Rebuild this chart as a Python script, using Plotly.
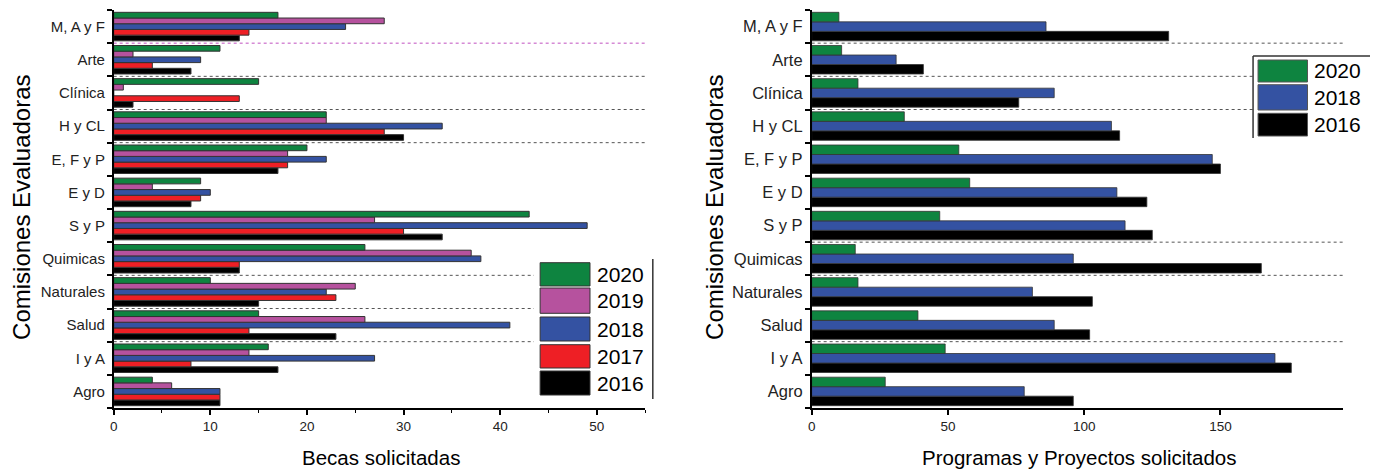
import plotly.graph_objects as go

W, H = 1377, 471

categories = ["M, A y F", "Arte", "Clínica", "H y CL", "E, F y P", "E y D",
              "S y P", "Quimicas", "Naturales", "Salud", "I y A", "Agro"]

# Left chart: Becas solicitadas
becas_2020 = [17, 11, 15, 22, 20, 9, 43, 26, 10, 15, 16, 4]
becas_2019 = [28, 2, 1, 22, 18, 4, 27, 37, 25, 26, 14, 6]
becas_2018 = [24, 9, 0, 34, 22, 10, 49, 38, 22, 41, 27, 11]
becas_2017 = [14, 4, 13, 28, 18, 9, 30, 13, 23, 14, 8, 11]
becas_2016 = [13, 8, 2, 30, 17, 8, 34, 13, 15, 23, 17, 11]

# Right chart: Programas y Proyectos solicitados
prog_2020 = [10, 11, 17, 34, 54, 58, 47, 16, 17, 39, 49, 27]
prog_2018 = [86, 31, 89, 110, 147, 112, 115, 96, 81, 89, 170, 78]
prog_2016 = [131, 41, 76, 113, 150, 123, 125, 165, 103, 102, 176, 96]

years_left = ["2020", "2019", "2018", "2017", "2016"]
years_right = ["2020", "2018", "2016"]

colors = {"2020": "#0E8440", "2019": "#B6529E", "2018": "#3452A2",
          "2017": "#EE1F25", "2016": "#000000"}

FONT = "Arial, Liberation Sans, sans-serif"

def fx(p):
    return p / W

def fy(p):
    return 1 - p / H

fig = go.Figure()

left_series = {"2020": becas_2020, "2019": becas_2019, "2018": becas_2018,
               "2017": becas_2017, "2016": becas_2016}
right_series = {"2020": prog_2020, "2018": prog_2018, "2016": prog_2016}

for yr in reversed(years_left):
    fig.add_trace(go.Bar(y=categories, x=left_series[yr], orientation="h",
                         name=yr, xaxis="x", yaxis="y", offsetgroup="L" + yr,
                         marker=dict(color=colors[yr], line=dict(color="#333333", width=1)),
                         showlegend=False))
for yr in reversed(years_right):
    fig.add_trace(go.Bar(y=categories, x=right_series[yr], orientation="h",
                         name=yr, xaxis="x2", yaxis="y2", offsetgroup="R" + yr,
                         marker=dict(color=colors[yr], line=dict(color="#333333", width=0.8)),
                         showlegend=False))

cat_order = list(reversed(categories))

x_dom_l = [fx(110), fx(643)]
x_dom_r = [fx(810), fx(1343)]
y_dom = [fy(408), fy(10)]

common_x = dict(showline=True, linecolor="black", linewidth=1.5, ticks="outside",
                ticklen=5, tickwidth=1.5, tickcolor="black", showgrid=False,
                zeroline=False, tickfont=dict(family=FONT, size=13.5, color="#222"))
common_y = dict(showline=True, linecolor="black", linewidth=1.5, ticks="outside",
                ticklen=5, tickwidth=1.5, tickcolor="black", showgrid=False,
                type="category", categoryorder="array", categoryarray=cat_order,
                tickson="boundaries", range=[-0.5, 11.5], zeroline=False,
                ticklabelstandoff=4)

fig.update_layout(
    width=W, height=H,
    margin=dict(l=0, r=0, t=0, b=0),
    paper_bgcolor="white", plot_bgcolor="white",
    barmode="group", bargap=0.14, bargroupgap=0,
    showlegend=False,
    xaxis=dict(domain=x_dom_l, anchor="y", range=[0, 55], dtick=10,
               minor=dict(dtick=5, ticks="outside", ticklen=3, tickcolor="black", tickwidth=1.2),
               **common_x),
    yaxis=dict(domain=y_dom, anchor="x", tickfont=dict(family=FONT, size=15, color="#222"),
               **common_y),
    xaxis2=dict(domain=x_dom_r, anchor="y2", range=[0, 195], dtick=50, **common_x),
    yaxis2=dict(domain=y_dom, anchor="x2", tickfont=dict(family=FONT, size=16.5, color="#222"),
                **common_y),
)

# dotted separators: (boundary index from top, x end, color)
left_seps = [(0, 55, "#C050C0"), (1, 55, "#555555"), (2, 55, "#555555"), (3, 55, "#555555"),
             (7, 43.5, "#555555"), (8, 43.5, "#555555"), (9, 43.5, "#555555")]
right_seps = [(0, 195, "#555555"), (1, 162, "#555555"), (2, 162, "#555555"),
              (6, 195, "#555555"), (7, 195, "#555555"), (9, 195, "#555555")]
for t, xe, c in left_seps:
    yv = 10.5 - t
    fig.add_shape(type="line", xref="x", yref="y", x0=0, x1=xe, y0=yv, y1=yv,
                  line=dict(color=c, width=1, dash="dot"))
for t, xe, c in right_seps:
    yv = 10.5 - t
    fig.add_shape(type="line", xref="x2", yref="y2", x0=0, x1=xe, y0=yv, y1=yv,
                  line=dict(color=c, width=1, dash="dot"))

# custom legends
left_leg = [(262.7, 286), (288, 313.3), (317, 341), (344.7, 368), (371, 395)]
for yr, (y0, y1) in zip(years_left, left_leg):
    fig.add_shape(type="rect", xref="paper", yref="paper", x0=fx(537.7), x1=fx(587.7),
                  y0=fy(y1), y1=fy(y0), fillcolor=colors[yr],
                  line=dict(color="#333333", width=1))
    fig.add_annotation(xref="paper", yref="paper", x=fx(593), y=fy((y0 + y1) / 2),
                       text=yr, showarrow=False, xanchor="left", yanchor="middle",
                       font=dict(family=FONT, size=21, color="black"))
fig.add_shape(type="line", xref="paper", yref="paper", x0=fx(650.7), x1=fx(650.7),
              y0=fy(399), y1=fy(259), line=dict(color="#333333", width=1.5))

right_leg = [(60, 82), (84.7, 110), (113.3, 136)]
for yr, (y0, y1) in zip(years_right, right_leg):
    fig.add_shape(type="rect", xref="paper", yref="paper", x0=fx(1257.7), x1=fx(1307.3),
                  y0=fy(y1), y1=fy(y0), fillcolor=colors[yr],
                  line=dict(color="#555555", width=1))
    fig.add_annotation(xref="paper", yref="paper", x=fx(1312), y=fy((y0 + y1) / 2),
                       text=yr, showarrow=False, xanchor="left", yanchor="middle",
                       font=dict(family=FONT, size=21, color="black"))
fig.add_shape(type="line", xref="paper", yref="paper", x0=fx(1252.7), x1=fx(1252.7),
              y0=fy(138), y1=fy(56), line=dict(color="#333333", width=1.5))
fig.add_shape(type="line", xref="paper", yref="paper", x0=fx(1252.7), x1=fx(1370),
              y0=fy(56), y1=fy(56), line=dict(color="#333333", width=1.5))

# axis titles
fig.add_annotation(xref="paper", yref="paper", x=fx(378), y=fy(457), text="Becas solicitadas",
                   showarrow=False, xanchor="center", yanchor="middle",
                   font=dict(family=FONT, size=20.5, color="black"))
fig.add_annotation(xref="paper", yref="paper", x=fx(1078), y=fy(457),
                   text="Programas y Proyectos solicitados",
                   showarrow=False, xanchor="center", yanchor="middle",
                   font=dict(family=FONT, size=20.5, color="black"))
fig.add_annotation(xref="paper", yref="paper", x=fx(17), y=fy(207), text="Comisiones Evaluadoras",
                   showarrow=False, textangle=-90, xanchor="center", yanchor="middle",
                   font=dict(family=FONT, size=24, color="black"))
fig.add_annotation(xref="paper", yref="paper", x=fx(712), y=fy(207), text="Comisiones Evaluadoras",
                   showarrow=False, textangle=-90, xanchor="center", yanchor="middle",
                   font=dict(family=FONT, size=24, color="black"))

fig.write_html("out.html", config={"displayModeBar": False},
               post_script="document.body.style.margin='0';document.body.style.overflow='hidden';")
